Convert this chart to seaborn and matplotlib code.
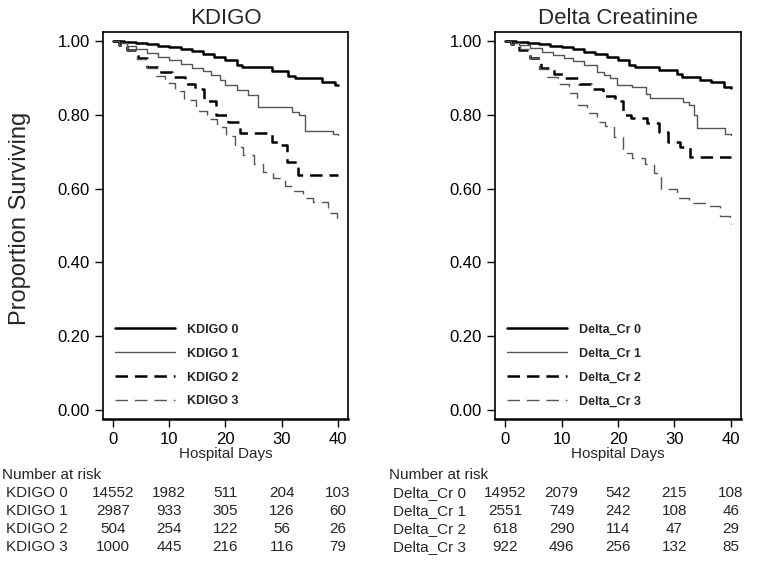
import numpy as np
import pandas as pd
import matplotlib
matplotlib.use('Agg')
import matplotlib.pyplot as plt
import matplotlib.transforms as mtransforms
import seaborn as sns

# KDIGO panel (step points)
kdigo0_days = [0, 2, 4, 6, 8, 10, 12, 14, 16, 18, 20, 22, 23, 28.2, 31.1, 32.3, 37.1, 39.5, 40]
kdigo0_surv = [1.0, 0.998, 0.995, 0.992, 0.988, 0.984, 0.979, 0.973, 0.966, 0.958, 0.949, 0.935, 0.929,
               0.919, 0.906, 0.901, 0.890, 0.881, 0.880]
kdigo1_days = [0, 1, 2.5, 4, 6, 8, 10, 12, 14, 16, 17.5, 19, 20, 22, 24, 25.8, 31.8, 33, 34.1, 39.2, 40]
kdigo1_surv = [1.0, 0.995, 0.988, 0.980, 0.968, 0.958, 0.948, 0.937, 0.927, 0.918, 0.908, 0.895, 0.881,
               0.867, 0.854, 0.822, 0.808, 0.800, 0.757, 0.747, 0.745]
kdigo2_days = [0, 1.0, 2.5, 4.5, 6, 8.2, 10.5, 12.8, 14.6, 16.2, 18.3, 20.5, 22.5, 28.2, 29.8, 31.0, 32.9, 40]
kdigo2_surv = [1.0, 0.990, 0.975, 0.955, 0.930, 0.916, 0.902, 0.885, 0.870, 0.837, 0.800, 0.780, 0.750,
               0.727, 0.718, 0.673, 0.637, 0.636]
kdigo3_days = [0, 1.0, 2.5, 4.3, 6, 7.7, 9.2, 11, 12.6, 14.8, 16.7, 18.5, 20.1, 21.7, 23.1, 25, 26.7,
               28.4, 30.5, 32.2, 33.8, 35.6, 38.2, 39.9, 40]
kdigo3_surv = [1.0, 0.990, 0.975, 0.953, 0.927, 0.905, 0.886, 0.864, 0.840, 0.810, 0.790, 0.767, 0.742,
               0.713, 0.690, 0.667, 0.645, 0.629, 0.607, 0.593, 0.574, 0.565, 0.533, 0.515, 0.513]

# Delta creatinine panel
delta0_days = [0, 2, 4, 6, 8, 10, 12, 14, 16, 18, 20, 22, 23, 27.3, 30.4, 31.3, 34.5, 36.5, 38.8, 40]
delta0_surv = [1.0, 0.998, 0.995, 0.992, 0.988, 0.983, 0.978, 0.972, 0.965, 0.957, 0.948, 0.935, 0.929,
               0.921, 0.912, 0.903, 0.896, 0.890, 0.876, 0.874]
delta1_days = [0, 1, 2.5, 4.4, 6.5, 8.5, 10.4, 12, 14, 16.3, 17.5, 18.6, 19.8, 22.5, 25, 25.7, 31.5,
               32.6, 33.4, 34, 38.9, 40]
delta1_surv = [1.0, 0.996, 0.990, 0.981, 0.972, 0.963, 0.954, 0.945, 0.935, 0.917, 0.908, 0.899, 0.881,
               0.876, 0.857, 0.846, 0.836, 0.827, 0.800, 0.764, 0.748, 0.746]
delta2_days = [0, 1, 2.5, 4.4, 6.4, 8.7, 10.6, 13.1, 15.2, 17.3, 19.5, 20.9, 22.3, 25.1, 27.3, 28.9,
               31.0, 32.7, 40]
delta2_surv = [1.0, 0.993, 0.975, 0.954, 0.927, 0.912, 0.899, 0.883, 0.870, 0.851, 0.838, 0.800, 0.792,
               0.777, 0.754, 0.727, 0.713, 0.686, 0.685]
delta3_days = [0, 1, 2.7, 4.4, 6, 7.4, 9.4, 11.3, 12.7, 14.5, 16.3, 17.7, 19.3, 20.9, 22.5, 24.8, 26.4,
               27.6, 30.5, 32.5, 35.5, 38, 39.8, 40]
delta3_surv = [1.0, 0.993, 0.978, 0.954, 0.925, 0.902, 0.883, 0.859, 0.827, 0.805, 0.781, 0.770, 0.740,
               0.697, 0.683, 0.667, 0.642, 0.598, 0.575, 0.560, 0.552, 0.525, 0.510, 0.505]

# Number at risk tables
risk_times = [0, 10, 20, 30, 40]
kdigo_labels = ['KDIGO 0', 'KDIGO 1', 'KDIGO 2', 'KDIGO 3']
kdigo_risk = [[14552, 1982, 511, 204, 103],
              [2987, 933, 305, 126, 60],
              [504, 254, 122, 56, 26],
              [1000, 445, 216, 116, 79]]
delta_labels = ['Delta_Cr 0', 'Delta_Cr 1', 'Delta_Cr 2', 'Delta_Cr 3']
delta_risk = [[14952, 2079, 542, 215, 108],
              [2551, 749, 242, 108, 46],
              [618, 290, 114, 47, 29],
              [922, 496, 256, 132, 85]]

sns.set_theme(style='white')
plt.rcParams['font.family'] = ['Liberation Sans', 'DejaVu Sans']
plt.rcParams['lines.scale_dashes'] = False

# black thick solid, grey thin solid, black thick dashed, grey thin dashed
styles = [('black', 1.8, '-'),
          ('#555555', 1.0, '-'),
          ('black', 1.8, (0, (9, 5))),
          ('#555555', 1.0, (0, (9, 5)))]

fig = plt.figure(figsize=(7.76, 5.61), dpi=100)
ax1 = fig.add_axes([103 / 776, 1 - 419 / 561, 245 / 776, 387 / 561])
ax2 = fig.add_axes([495 / 776, 1 - 419 / 561, 246 / 776, 387 / 561])

panels = [
    (ax1, 'KDIGO', [(kdigo0_days, kdigo0_surv), (kdigo1_days, kdigo1_surv),
                    (kdigo2_days, kdigo2_surv), (kdigo3_days, kdigo3_surv)],
     kdigo_labels, kdigo_risk, 6),
    (ax2, 'Delta Creatinine', [(delta0_days, delta0_surv), (delta1_days, delta1_surv),
                               (delta2_days, delta2_surv), (delta3_days, delta3_surv)],
     delta_labels, delta_risk, 393),
]

for ax, title, curves, labels, risk, label_x in panels:
    for (days, surv), lab, (col, lw, ls) in zip(curves, labels, styles):
        df = pd.DataFrame({'day': days, 'surv': surv})
        sns.lineplot(data=df, x='day', y='surv', ax=ax, color=col, lw=lw, linestyle=ls,
                     drawstyle='steps-post', estimator=None, label=lab)
    ax.set_xlim(-1.8, 41.8)
    ax.set_ylim(-0.025, 1.025)
    ax.set_xticks(risk_times)
    ax.set_yticks(np.arange(0, 1.01, 0.2))
    ax.set_yticklabels([f'{v:.2f}' for v in np.arange(0, 1.01, 0.2)])
    ax.tick_params(direction='out', length=6, width=1, labelsize=12, pad=3.5,
                   colors='black', bottom=True, left=True)
    for s in ax.spines.values():
        s.set_color('black')
        s.set_linewidth(1.2)
    ax.spines['bottom'].set_linewidth(1.8)
    ax.set_title(title, fontsize=16, pad=6)
    ax.set_xlabel('Hospital Days', fontsize=11, labelpad=0)
    ax.set_ylabel('')
    ax.legend(loc='lower left', bbox_to_anchor=(0.047, 0.03), frameon=False,
              prop={'weight': 'bold', 'size': 9}, handlelength=4.8, handletextpad=1.0,
              labelspacing=0.95, borderpad=0, borderaxespad=0)

    # number at risk table under each panel
    trans = mtransforms.blended_transform_factory(ax.transData, fig.transFigure)
    fig.text((label_x - 4) / 776, 1 - 475 / 561, 'Number at risk', fontsize=11,
             ha='left', va='center')
    for i, (lab, row) in enumerate(zip(labels, risk)):
        yy = 1 - (493 + 18 * i) / 561
        fig.text(label_x / 776, yy, lab, fontsize=11, ha='left', va='center')
        for t, n in zip(risk_times, row):
            ax.text(t, yy, str(n), transform=trans, fontsize=11, ha='center', va='center')

fig.text(20 / 776, 1 - 218 / 561, 'Proportion Surviving', rotation=90, fontsize=17,
         ha='center', va='center')

fig.savefig('out.png', dpi=100)
